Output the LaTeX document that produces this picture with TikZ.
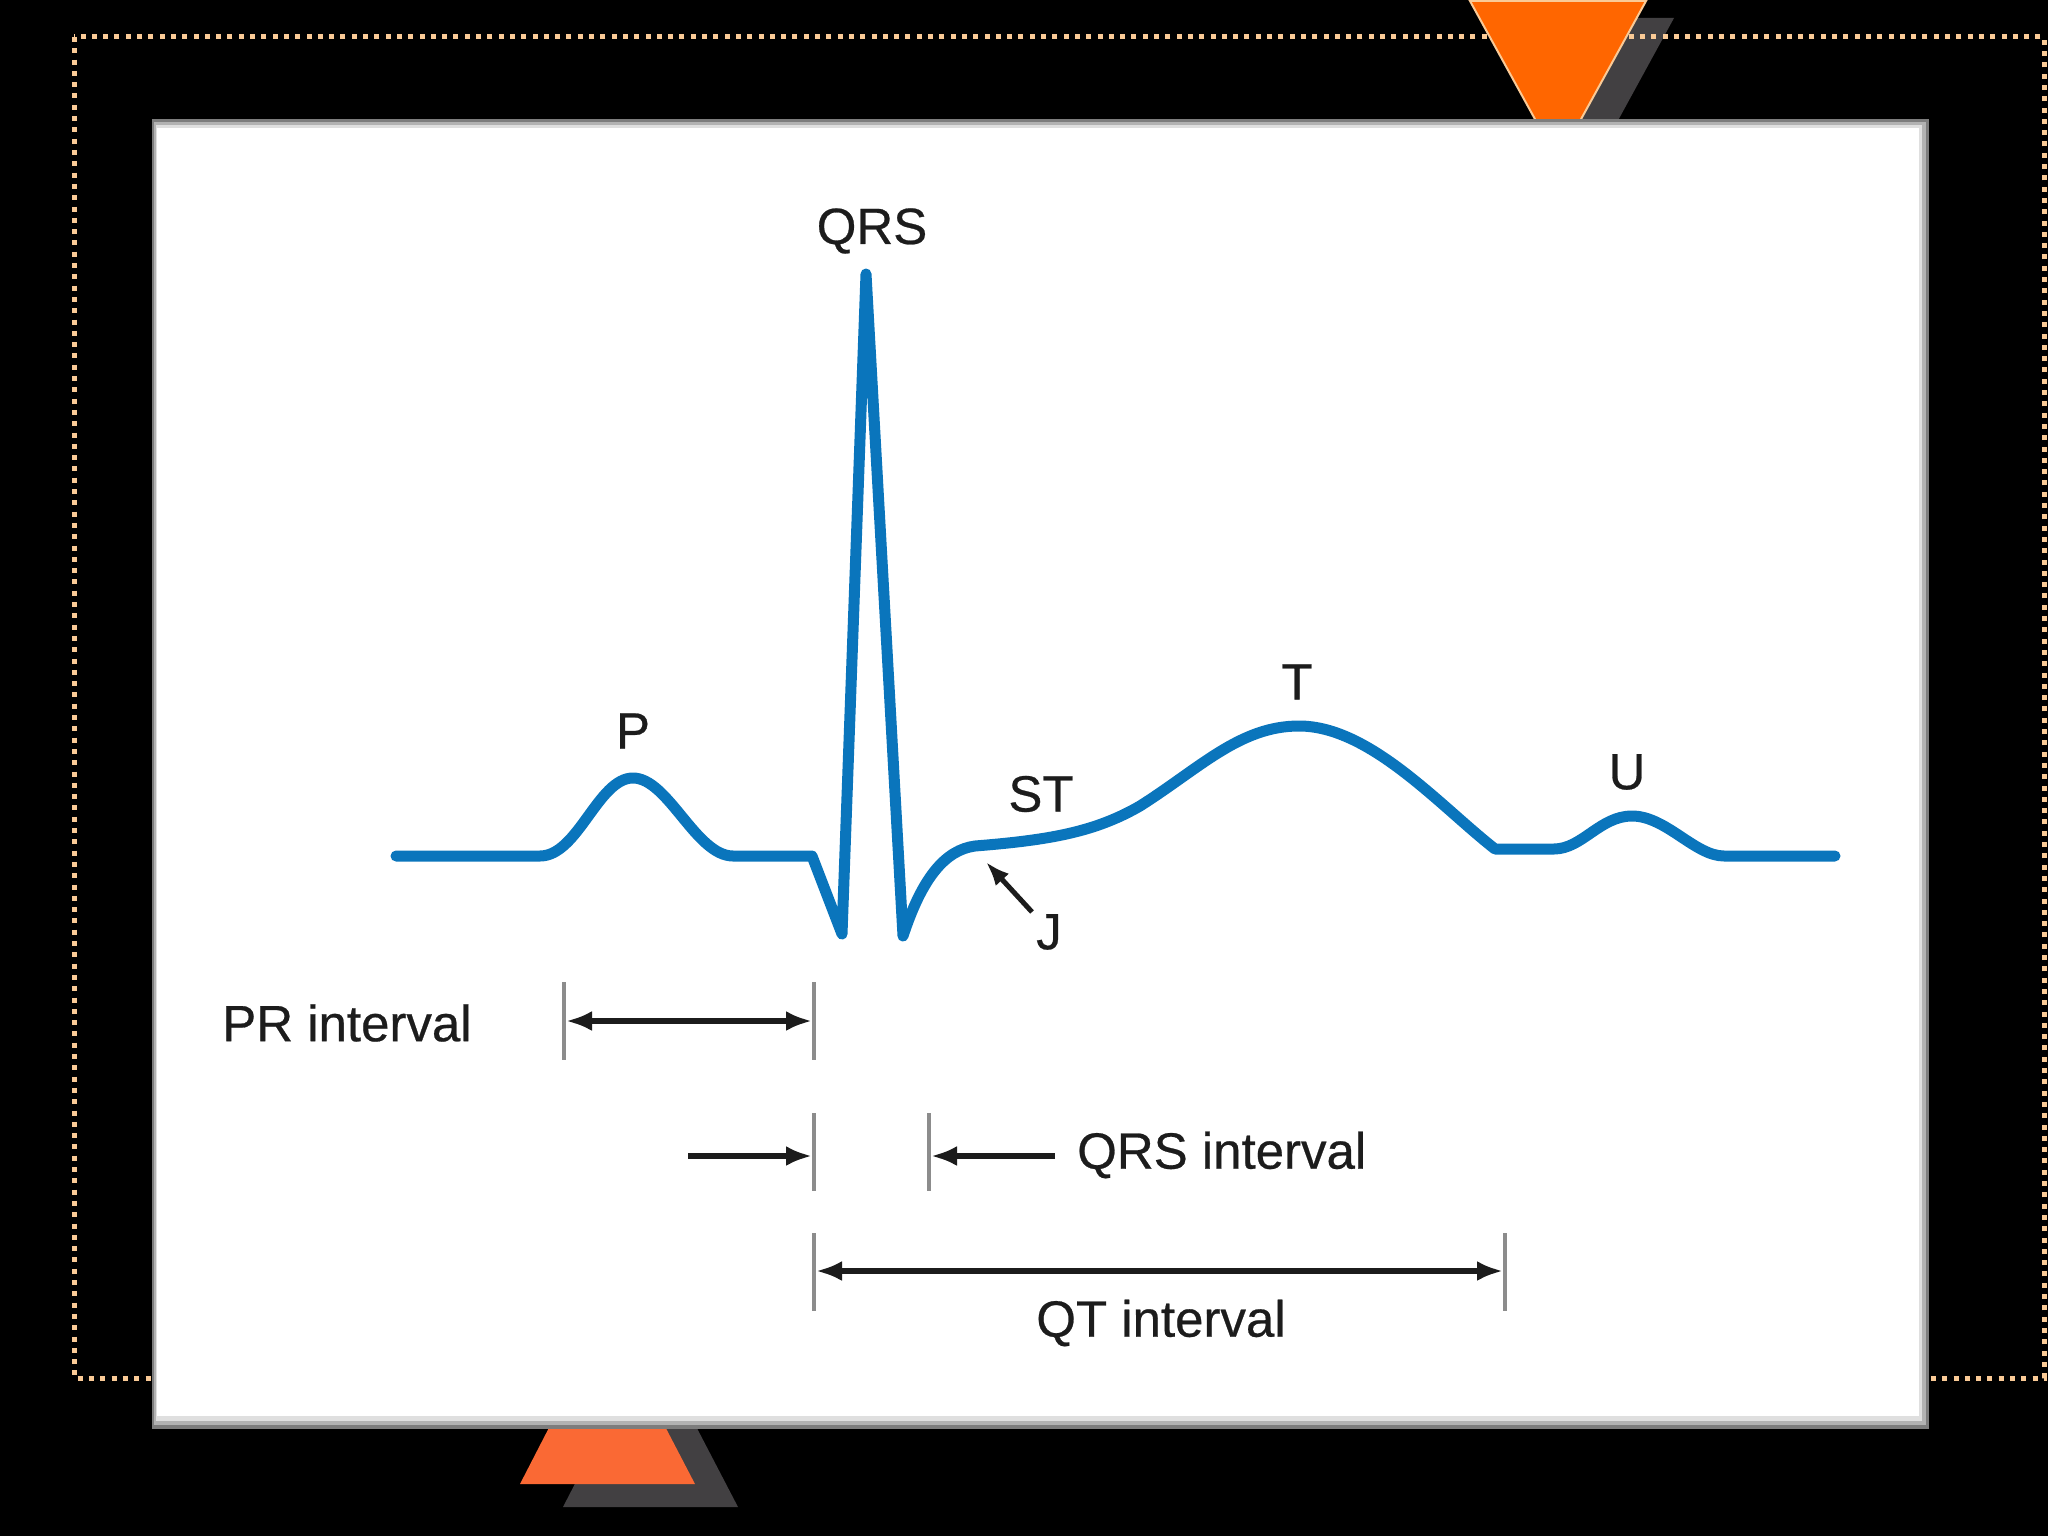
\documentclass[tikz,border=0pt]{standalone}
\usepackage{fontspec}
\setmainfont{Liberation Sans}
\newfontfamily\lblfont{Liberation Sans}[FakeBold=0.5]
\usetikzlibrary{arrows.meta}
\definecolor{ecgblue}{RGB}{10,117,188}
\definecolor{dotpeach}{RGB}{250,202,150}
\definecolor{orangeA}{RGB}{255,102,0}
\definecolor{orangeB}{RGB}{250,105,52}
\definecolor{shadowgrey}{RGB}{66,64,66}
\definecolor{txt}{RGB}{28,28,28}
\definecolor{tickgrey}{RGB}{140,140,140}
\definecolor{framegrey}{RGB}{125,125,125}
\begin{document}
\begin{tikzpicture}[x=1pt,y=-1pt,
  lbl/.style={font=\lblfont\fontsize{51}{60}\selectfont, text=txt, inner sep=0pt},
  ecg/.style={line width=11pt, draw=ecgblue, line join=round, line cap=round},
  tickline/.style={line width=4pt, draw=tickgrey},
  dimarrow/.style={line width=5.5pt, draw=txt, -{Latex[length=26pt,width=20pt]}},
  dimboth/.style={line width=5.5pt, draw=txt, {Latex[length=26pt,width=20pt]}-{Latex[length=26pt,width=20pt]}}]
% background and bounding box
\fill[black] (0,0) rectangle (2048,1536);
\useasboundingbox (0,0) rectangle (2048,1536);
% shadows of triangles
\fill[shadowgrey] (1498,18) -- (1674,18) -- (1586,179) -- cycle;
\fill[shadowgrey] (650,1338) -- (563,1507) -- (738,1507) -- cycle;
% dotted frame
\draw[dotpeach, line width=5pt, dash pattern=on 5pt off 6.3pt] (74,37) rectangle (2044,1378);
% orange triangles
\filldraw[fill=orangeA, draw=dotpeach, line width=2pt] (1470,1) -- (1646,1) -- (1558,161) -- cycle;
\fill[orangeB] (607,1315) -- (520,1484) -- (695,1484) -- cycle;
% white panel with grey frame
\fill[framegrey] (152,119) rectangle (1929,1429);
\fill[gray!60] (154,122) rectangle (1926,1425);
\fill[gray!25] (156,125) rectangle (1922,1421);
\fill[white] (157,128) rectangle (1919,1416);
% ECG trace
\draw[ecg] (396,856) -- (540,856)
  .. controls (578,856) and (598,778) .. (633,778)
  .. controls (668,778) and (696,856) .. (733,856)
  -- (812,856) -- (842,934) -- (866,274) -- (903,936)
  .. controls (922,878) and (945,850) .. (975,846)
  .. controls (1050,840) and (1095,832) .. (1140,806)
  .. controls (1200,768) and (1240,726) .. (1299,726)
  .. controls (1370,726) and (1440,806) .. (1495,849)
  -- (1554,849)
  .. controls (1582,849) and (1600,816) .. (1632,816)
  .. controls (1666,816) and (1695,856) .. (1724,856)
  -- (1835,856);
% wave labels
\node[lbl] (qrs) at (872,231) {QRS};
\node[lbl] (p) at (633,731) {P};
\node[lbl] (st) at (1041,794) {ST};
\node[lbl] (t) at (1297,682) {T};
\node[lbl] (u) at (1627,772) {U};
\node[lbl] (j) at (1049,932) {J};
% J arrow
\coordinate (jtail) at (1032,912);
\coordinate (jtip) at (986,862);
\draw[line width=5pt, draw=txt, -{Latex[length=24pt,width=18pt]}] (jtail) -- (jtip);
% PR interval
\coordinate (pr1t) at (564,982); \coordinate (pr1b) at (564,1060);
\coordinate (pr2t) at (814,982); \coordinate (pr2b) at (814,1060);
\draw[tickline] (pr1t) -- (pr1b);
\draw[tickline] (pr2t) -- (pr2b);
\coordinate (pra) at (566,1021); \coordinate (prb) at (812,1021);
\draw[dimboth] (pra) -- (prb);
\node[lbl] (prlabel) at (347,1023) {PR interval};
% QRS interval
\coordinate (q1t) at (814,1113); \coordinate (q1b) at (814,1191);
\coordinate (q2t) at (929,1113); \coordinate (q2b) at (929,1191);
\draw[tickline] (q1t) -- (q1b);
\draw[tickline] (q2t) -- (q2b);
\coordinate (qa0) at (688,1156); \coordinate (qa1) at (812,1156);
\coordinate (qb0) at (1055,1156); \coordinate (qb1) at (931,1156);
\draw[dimarrow] (qa0) -- (qa1);
\draw[dimarrow] (qb0) -- (qb1);
\node[lbl, anchor=west] (qrslabel) at (1077,1155) {QRS interval};
% QT interval
\coordinate (qt1t) at (814,1233); \coordinate (qt1b) at (814,1311);
\coordinate (qt2t) at (1505,1233); \coordinate (qt2b) at (1505,1311);
\draw[tickline] (qt1t) -- (qt1b);
\draw[tickline] (qt2t) -- (qt2b);
\coordinate (qta) at (816,1271); \coordinate (qtb) at (1503,1271);
\draw[dimboth] (qta) -- (qtb);
\node[lbl] (qtlabel) at (1161,1323) {QT interval};
\end{tikzpicture}
\end{document}
